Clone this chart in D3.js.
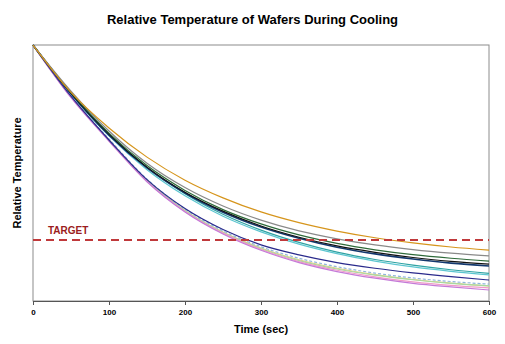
<!DOCTYPE html>
<html>
<head>
<meta charset="utf-8">
<script src="https://cdn.jsdelivr.net/npm/d3@7"></script>
<style>
  body { margin: 0; background: #fff; }
  svg text { font-family: "Liberation Sans", Arial, sans-serif; font-weight: bold; }
</style>
</head>
<body>
<div id="chart"></div>
<script>
// data
const times = [0, 50, 100, 150, 200, 250, 300, 350, 400, 450, 500, 550, 600]
const xTicks = [0, 100, 200, 300, 400, 500, 600]
const targetValue = 23.8

const orangeRun    = [100, 81.5, 67.6, 56.2, 47.2, 40.3, 34.8, 30.6, 27.3, 24.7, 22.7, 21.1, 19.9]
const grayRun      = [100, 82.0, 66.4, 53.8, 44.3, 37.1, 31.6, 27.4, 24.3, 21.9, 20.1, 18.7, 17.6]
const greenRun     = [100, 81.5, 65.6, 52.9, 43.2, 35.7, 30.1, 25.8, 22.5, 20.0, 18.1, 16.7, 15.6]
const blackRun     = [100, 81.2, 65.2, 52.3, 42.5, 35.1, 29.3, 24.9, 21.5, 19.0, 17.0, 15.5, 14.4]
const darkBlueRun  = [100, 81.0, 64.8, 52.0, 42.2, 34.7, 28.9, 24.5, 21.0, 18.4, 16.4, 14.8, 13.7]
const tealRun      = [100, 81.3, 65.2, 52.1, 41.9, 33.9, 27.7, 22.9, 19.1, 16.2, 14.0, 12.2, 10.8]
const cyanRun      = [100, 80.8, 64.5, 51.3, 41.1, 33.1, 27.0, 22.2, 18.5, 15.6, 13.3, 11.6, 10.2]
const navyRun      = [100, 80.0, 62.9, 47.4, 36.1, 27.9, 21.9, 18.0, 15.0, 12.8, 11.0, 9.5, 8.2]
const lightBlueRun = [100, 80.0, 63.3, 47.6, 35.9, 27.4, 21.2, 16.7, 13.4, 10.9, 9.0, 7.6, 6.6]
const yellowRun    = [100, 79.8, 62.9, 47.1, 35.4, 26.9, 20.7, 16.1, 12.8, 10.3, 8.4, 7.0, 5.9]
const lightGreenRun = [100, 79.8, 62.9, 47.0, 35.3, 26.7, 20.4, 15.8, 12.5, 10.1, 8.3, 6.9, 5.9]
const pinkRun      = [100, 79.5, 62.5, 46.7, 35.0, 26.5, 20.1, 15.4, 12.0, 9.4, 7.5, 6.1, 5.1]
const violetRun    = [100, 79.5, 62.5, 46.6, 34.8, 26.2, 19.8, 15.0, 11.5, 8.9, 6.9, 5.5, 4.3]

const runs = [
  {values: yellowRun, color: "#e3cf86"},
  {values: lightGreenRun, color: "#a8d8a0"},
  {values: lightBlueRun, color: "#8fb6dc", dash: "3 2"},
  {values: pinkRun, color: "#f09cc8"},
  {values: violetRun, color: "#c47ad8"},
  {values: navyRun, color: "#2a2a8c"},
  {values: cyanRun, color: "#5cc6d0"},
  {values: tealRun, color: "#2fa3a3"},
  {values: darkBlueRun, color: "#13386e", width: 1.6},
  {values: blackRun, color: "#111111"},
  {values: greenRun, color: "#2f6b3a"},
  {values: grayRun, color: "#8a8a8a"},
  {values: orangeRun, color: "#d6951c"},
]

const width = 505
const height = 344
const margin = {top: 45, right: 16, bottom: 43, left: 33}
const boundedWidth = width - margin.left - margin.right
const boundedHeight = height - margin.top - margin.bottom

const svg = d3.select("#chart").append("svg")
  .attr("width", width)
  .attr("height", height)

const bounds = svg.append("g")
  .attr("transform", `translate(${margin.left},${margin.top})`)

const xScale = d3.scaleLinear().domain([0, 600]).range([0, boundedWidth])
const yScale = d3.scaleLinear().domain([0, 100]).range([boundedHeight, 0])

// frame
bounds.append("rect")
  .attr("x", 0).attr("y", 0)
  .attr("width", boundedWidth).attr("height", boundedHeight)
  .attr("fill", "none")
  .attr("stroke", "#8c8c8c")
  .attr("stroke-width", 1)

// lines
const lineGenerator = d3.line()
  .x((d, i) => xScale(times[i]))
  .y(d => yScale(d))
  .curve(d3.curveMonotoneX)

bounds.selectAll(".run")
  .data(runs)
  .join("path")
    .attr("class", "run")
    .attr("d", d => lineGenerator(d.values))
    .attr("fill", "none")
    .attr("stroke", d => d.color)
    .attr("stroke-width", d => d.width || 1.2)
    .attr("stroke-dasharray", d => d.dash || null)

// target
bounds.append("line")
  .attr("x1", 0).attr("x2", boundedWidth)
  .attr("y1", yScale(targetValue)).attr("y2", yScale(targetValue))
  .attr("stroke", "#c0393b")
  .attr("stroke-width", 2)
  .attr("stroke-dasharray", "8 5")

bounds.append("text")
  .attr("x", 15)
  .attr("y", yScale(targetValue) - 6)
  .attr("fill", "#9b1c20")
  .style("font-size", "10px")
  .text("TARGET")

// x axis
const xAxisGenerator = d3.axisBottom(xScale)
  .tickValues(xTicks)
  .tickSize(4)
  .tickPadding(4)
const xAxis = bounds.append("g")
  .attr("transform", `translate(0,${boundedHeight})`)
  .call(xAxisGenerator)
xAxis.select(".domain").attr("stroke", "#555")
xAxis.selectAll(".tick line").attr("stroke", "#555")
xAxis.selectAll(".tick text")
  .style("font-size", "8px")
  .style("font-family", "'Liberation Sans', Arial, sans-serif")
  .style("font-weight", "bold")
  .attr("fill", "#000")

// labels
svg.append("text")
  .attr("x", width / 2)
  .attr("y", 24)
  .attr("text-anchor", "middle")
  .style("font-size", "13px")
  .text("Relative Temperature of Wafers During Cooling")

svg.append("text")
  .attr("x", margin.left + boundedWidth / 2)
  .attr("y", 333)
  .attr("text-anchor", "middle")
  .style("font-size", "11px")
  .text("Time (sec)")

svg.append("text")
  .attr("transform", `translate(21,${margin.top + boundedHeight / 2}) rotate(-90)`)
  .attr("text-anchor", "middle")
  .style("font-size", "11px")
  .text("Relative Temperature")
</script>
</body>
</html>
